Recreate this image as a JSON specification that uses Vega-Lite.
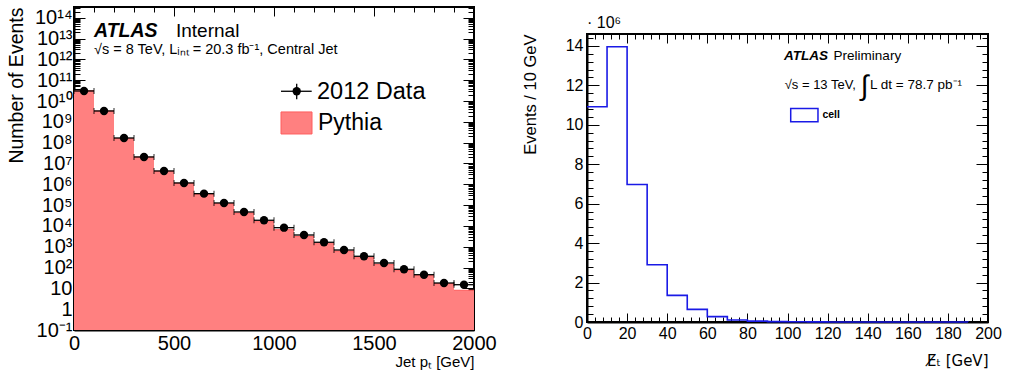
{
  "$schema": "https://vega.github.io/schema/vega-lite/v6.json",
  "background": "white",
  "padding": 5,
  "spacing": 23,
  "config": {
    "font": "Liberation Sans",
    "view": {"stroke": "black", "strokeWidth": 2},
    "axis": {"grid": false, "zindex": 1, "labelColor": "black", "titleColor": "black", "tickColor": "black", "tickWidth": 1, "labelFont": "Liberation Sans", "titleFont": "Liberation Sans", "titleFontWeight": "normal", "labelOverlap": false, "labelFlush": false, "domainColor": "black", "domainWidth": 2}
  },
  "datasets": {
    "jets": [
      {"lo": 0, "hi": 100, "pt": 50, "pythia": 3.1e10, "data": 3.05e10},
      {"lo": 100, "hi": 200, "pt": 150, "pythia": 3.3e9, "data": 3.34e9},
      {"lo": 200, "hi": 300, "pt": 250, "pythia": 1.56e8, "data": 1.68e8},
      {"lo": 300, "hi": 400, "pt": 350, "pythia": 2.0e7, "data": 2.06e7},
      {"lo": 400, "hi": 500, "pt": 450, "pythia": 4.23e6, "data": 4.37e6},
      {"lo": 500, "hi": 600, "pt": 550, "pythia": 1.12e6, "data": 1.16e6},
      {"lo": 600, "hi": 700, "pt": 650, "pythia": 3.43e5, "data": 3.55e5},
      {"lo": 700, "hi": 800, "pt": 750, "pythia": 1.17e5, "data": 1.27e5},
      {"lo": 800, "hi": 900, "pt": 850, "pythia": 4.19e4, "data": 4.68e4},
      {"lo": 900, "hi": 1000, "pt": 950, "pythia": 1.6e4, "data": 1.87e4},
      {"lo": 1000, "hi": 1100, "pt": 1050, "pythia": 6600, "data": 8240},
      {"lo": 1100, "hi": 1200, "pt": 1150, "pythia": 3180, "data": 3670},
      {"lo": 1200, "hi": 1300, "pt": 1250, "pythia": 1400, "data": 1640},
      {"lo": 1300, "hi": 1400, "pt": 1350, "pythia": 625, "data": 698},
      {"lo": 1400, "hi": 1500, "pt": 1450, "pythia": 298, "data": 348},
      {"lo": 1500, "hi": 1600, "pt": 1550, "pythia": 144, "data": 166},
      {"lo": 1600, "hi": 1700, "pt": 1650, "pythia": 74, "data": 82.6},
      {"lo": 1700, "hi": 1800, "pt": 1750, "pythia": 40.7, "data": 45.4},
      {"lo": 1800, "hi": 1900, "pt": 1850, "pythia": 16.8, "data": 18.1},
      {"lo": 1900, "hi": 2000, "pt": 1950, "pythia": 8.1, "data": 15.0}
    ],
    "met": [
      {"lo": 0, "events": 10910000},
      {"lo": 10, "events": 13950000},
      {"lo": 20, "events": 6970000},
      {"lo": 30, "events": 2900000},
      {"lo": 40, "events": 1350000},
      {"lo": 50, "events": 640000},
      {"lo": 60, "events": 270000},
      {"lo": 70, "events": 100000},
      {"lo": 80, "events": 45000},
      {"lo": 90, "events": 20000},
      {"lo": 100, "events": 10000},
      {"lo": 110, "events": 5000},
      {"lo": 120, "events": 3000},
      {"lo": 130, "events": 2000},
      {"lo": 140, "events": 1000},
      {"lo": 150, "events": 600},
      {"lo": 160, "events": 400},
      {"lo": 170, "events": 250},
      {"lo": 180, "events": 150},
      {"lo": 190, "events": 100}
    ]
  },
  "hconcat": [
    {
      "width": 400,
      "height": 323,
      "resolve": {"axis": {"x": "independent", "y": "independent"}},
      "layer": [
        {
          "data": {"name": "jets"},
          "mark": {"type": "rect", "fill": "#ff8080"},
          "encoding": {
            "x": {"field": "lo", "type": "quantitative",
              "scale": {"domain": [0, 2000], "nice": false, "zero": false},
              "axis": {"orient": "bottom", "values": [0,100,200,300,400,500,600,700,800,900,1000,1100,1200,1300,1400,1500,1600,1700,1800,1900,2000],
                "labelExpr": "datum.value % 500 == 0 ? format(datum.value, 'd') : ''",
                "labelFontSize": 20, "labelPadding": 12,
                "tickSize": {"condition": {"test": "datum.value % 500 == 0", "value": -9}, "value": -5},
                "domain": true,
                "title": "Jet pₜ [GeV]", "titleFontSize": 15, "titleAnchor": "end", "titlePadding": -3}},
            "x2": {"field": "hi"},
            "y": {"field": "pythia", "type": "quantitative",
              "scale": {"type": "log", "domain": [0.1, 3.3e14], "nice": false},
              "axis": {"orient": "left",
                "values": [0.1,0.2,0.3,0.4,0.5,0.6,0.7,0.8,0.9,1,2,3,4,5,6,7,8,9,10,20,30,40,50,60,70,80,90,100,200,300,400,500,600,700,800,900,1000,2000,3000,4000,5000,6000,7000,8000,9000,1e4,2e4,3e4,4e4,5e4,6e4,7e4,8e4,9e4,1e5,2e5,3e5,4e5,5e5,6e5,7e5,8e5,9e5,1e6,2e6,3e6,4e6,5e6,6e6,7e6,8e6,9e6,1e7,2e7,3e7,4e7,5e7,6e7,7e7,8e7,9e7,1e8,2e8,3e8,4e8,5e8,6e8,7e8,8e8,9e8,1e9,2e9,3e9,4e9,5e9,6e9,7e9,8e9,9e9,1e10,2e10,3e10,4e10,5e10,6e10,7e10,8e10,9e10,1e11,2e11,3e11,4e11,5e11,6e11,7e11,8e11,9e11,1e12,2e12,3e12,4e12,5e12,6e12,7e12,8e12,9e12,1e13,2e13,3e13,4e13,5e13,6e13,7e13,8e13,9e13,1e14,2e14,3e14],
                "labelExpr": "abs(log(datum.value)/LN10 - round(log(datum.value)/LN10)) < 1e-6 ? ['10⁻¹','1','10','10²','10³','10⁴','10⁵','10⁶','10⁷','10⁸','10⁹','10¹⁰','10¹¹','10¹²','10¹³','10¹⁴'][round(log(datum.value)/LN10) + 1] : ''",
                "labelFontSize": {"condition": {"test": "abs(log(datum.value)/LN10 - round(log(datum.value)/LN10)) < 1e-6", "value": 20}, "value": 1},
                "labelPadding": 13,
                "tickSize": {"condition": {"test": "abs(log(datum.value)/LN10 - round(log(datum.value)/LN10)) < 1e-6", "value": -11}, "value": -6},
                "domain": true,
                "title": "Number of Events", "titleFontSize": 19.5, "titleAnchor": "end", "titlePadding": 8}},
            "y2": {"datum": 0.1}
          }
        },
        {
          "data": {"name": "jets"},
          "mark": {"type": "rule", "stroke": "#ff5c5c", "strokeWidth": 1},
          "encoding": {
            "x": {"field": "lo", "type": "quantitative",
              "axis": {"orient": "top", "values": [0,100,200,300,400,500,600,700,800,900,1000,1100,1200,1300,1400,1500,1600,1700,1800,1900,2000],
                "labels": false, "domain": false, "title": null,
                "tickSize": {"condition": {"test": "datum.value % 500 == 0", "value": -9}, "value": -5}}},
            "x2": {"field": "hi"},
            "y": {"field": "pythia", "type": "quantitative",
              "axis": {"orient": "right",
                "values": [0.1,0.2,0.3,0.4,0.5,0.6,0.7,0.8,0.9,1,2,3,4,5,6,7,8,9,10,20,30,40,50,60,70,80,90,100,200,300,400,500,600,700,800,900,1000,2000,3000,4000,5000,6000,7000,8000,9000,1e4,2e4,3e4,4e4,5e4,6e4,7e4,8e4,9e4,1e5,2e5,3e5,4e5,5e5,6e5,7e5,8e5,9e5,1e6,2e6,3e6,4e6,5e6,6e6,7e6,8e6,9e6,1e7,2e7,3e7,4e7,5e7,6e7,7e7,8e7,9e7,1e8,2e8,3e8,4e8,5e8,6e8,7e8,8e8,9e8,1e9,2e9,3e9,4e9,5e9,6e9,7e9,8e9,9e9,1e10,2e10,3e10,4e10,5e10,6e10,7e10,8e10,9e10,1e11,2e11,3e11,4e11,5e11,6e11,7e11,8e11,9e11,1e12,2e12,3e12,4e12,5e12,6e12,7e12,8e12,9e12,1e13,2e13,3e13,4e13,5e13,6e13,7e13,8e13,9e13,1e14,2e14,3e14],
                "labels": false, "domain": false, "title": null,
                "tickSize": {"condition": {"test": "abs(log(datum.value)/LN10 - round(log(datum.value)/LN10)) < 1e-6", "value": -11}, "value": -6}}}
          }
        },
        {
          "data": {"name": "jets"},
          "mark": {"type": "rule", "stroke": "black", "strokeWidth": 1.3},
          "encoding": {
            "x": {"field": "lo", "type": "quantitative", "axis": null},
            "x2": {"field": "hi"},
            "y": {"field": "data", "type": "quantitative", "axis": null}
          }
        },
        {
          "data": {"name": "jets"},
          "mark": {"type": "tick", "orient": "vertical", "size": 6, "thickness": 1.2, "color": "black"},
          "encoding": {
            "x": {"field": "lo", "type": "quantitative", "axis": null},
            "y": {"field": "data", "type": "quantitative", "axis": null}
          }
        },
        {
          "data": {"name": "jets"},
          "mark": {"type": "tick", "orient": "vertical", "size": 6, "thickness": 1.2, "color": "black"},
          "encoding": {
            "x": {"field": "hi", "type": "quantitative", "axis": null},
            "y": {"field": "data", "type": "quantitative", "axis": null}
          }
        },
        {
          "data": {"name": "jets"},
          "mark": {"type": "point", "shape": "circle", "filled": true, "size": 70, "color": "black", "opacity": 1},
          "encoding": {
            "x": {"field": "pt", "type": "quantitative", "axis": null},
            "y": {"field": "data", "type": "quantitative", "axis": null}
          }
        },
        {
          "data": {"values": [{}]},
          "mark": {"type": "text", "text": "ATLAS", "fontSize": 19.5, "fontWeight": "bold", "fontStyle": "italic", "align": "left", "baseline": "alphabetic", "color": "black"},
          "encoding": {"x": {"datum": 100, "axis": null}, "y": {"datum": 1.14e13, "axis": null}}
        },
        {
          "data": {"values": [{}]},
          "mark": {"type": "text", "text": "Internal", "fontSize": 19, "align": "left", "baseline": "alphabetic", "color": "black"},
          "encoding": {"x": {"datum": 510, "axis": null}, "y": {"datum": 1.14e13, "axis": null}}
        },
        {
          "data": {"values": [{}]},
          "mark": {"type": "text", "text": "√s = 8 TeV, Lᵢₙₜ = 20.3 fb⁻¹, Central Jet", "fontSize": 14.5, "align": "left", "baseline": "alphabetic", "color": "black"},
          "encoding": {"x": {"datum": 100, "axis": null}, "y": {"datum": 1.9e12, "axis": null}}
        },
        {
          "data": {"values": [{}]},
          "mark": {"type": "rule", "color": "black", "strokeWidth": 1.3},
          "encoding": {"x": {"datum": 1035, "axis": null}, "x2": {"datum": 1188.5}, "y": {"datum": 2.95e10, "axis": null}}
        },
        {
          "data": {"values": [{}]},
          "mark": {"type": "rule", "color": "black", "strokeWidth": 1.3},
          "encoding": {"x": {"datum": 1113.5, "axis": null}, "y": {"datum": 6.86e10, "axis": null}, "y2": {"datum": 1.22e10}}
        },
        {
          "data": {"values": [{}]},
          "mark": {"type": "point", "shape": "circle", "filled": true, "size": 70, "color": "black", "opacity": 1},
          "encoding": {"x": {"datum": 1113.5, "axis": null}, "y": {"datum": 2.95e10, "axis": null}}
        },
        {
          "data": {"values": [{}]},
          "mark": {"type": "text", "text": "2012 Data", "fontSize": 23.5, "align": "left", "baseline": "alphabetic", "color": "black"},
          "encoding": {"x": {"datum": 1215, "axis": null}, "y": {"datum": 1.3e10, "axis": null}}
        },
        {
          "data": {"values": [{}]},
          "mark": {"type": "rect", "fill": "#ff8080", "stroke": "#ff5c5c", "strokeWidth": 1},
          "encoding": {"x": {"datum": 1035, "axis": null}, "x2": {"datum": 1190}, "y": {"datum": 2.99e9, "axis": null}, "y2": {"datum": 2.62e8}}
        },
        {
          "data": {"values": [{}]},
          "mark": {"type": "text", "text": "Pythia", "fontSize": 23, "align": "left", "baseline": "alphabetic", "color": "black"},
          "encoding": {"x": {"datum": 1220, "axis": null}, "y": {"datum": 4.22e8, "axis": null}}
        }
      ]
    },
    {
      "spacing": 5,
      "vconcat": [
        {
          "width": 401,
          "height": 1,
          "view": {"stroke": null},
          "data": {"values": [{}]},
          "mark": {"type": "rule", "strokeOpacity": 0},
          "encoding": {}
        },
        {
          "width": 401,
          "height": 288,
          "title": {"text": "· 10⁶", "anchor": "start", "frame": "group", "fontSize": 16, "fontWeight": "normal", "font": "Liberation Sans", "color": "black", "offset": -1},
          "resolve": {"axis": {"x": "independent", "y": "independent"}},
          "layer": [
            {
              "data": {"name": "met"},
              "mark": {"type": "line", "interpolate": "step-after", "stroke": "#1a1ae6", "strokeWidth": 1.6},
              "encoding": {
                "x": {"field": "lo", "type": "quantitative",
                  "scale": {"domain": [0, 200], "nice": false, "zero": false},
                  "axis": {"orient": "bottom", "values": [0,4,8,12,16,20,24,28,32,36,40,44,48,52,56,60,64,68,72,76,80,84,88,92,96,100,104,108,112,116,120,124,128,132,136,140,144,148,152,156,160,164,168,172,176,180,184,188,192,196,200],
                    "labelExpr": "datum.value % 20 == 0 ? format(datum.value, 'd') : ''",
                    "labelFontSize": 16, "labelPadding": 12,
                    "tickSize": {"condition": {"test": "datum.value % 20 == 0", "value": -9}, "value": -5},
                    "domain": true,
                    "title": "E̸ₜ [GeV]", "titleFont": "DejaVu Sans", "titleFontSize": 15, "titleAnchor": "end", "titlePadding": 8}},
                "y": {"field": "events", "type": "quantitative",
                  "scale": {"domain": [0, 14600000], "nice": false, "zero": true},
                  "axis": {"orient": "left",
                    "values": [0,400000,800000,1200000,1600000,2000000,2400000,2800000,3200000,3600000,4000000,4400000,4800000,5200000,5600000,6000000,6400000,6800000,7200000,7600000,8000000,8400000,8800000,9200000,9600000,10000000,10400000,10800000,11200000,11600000,12000000,12400000,12800000,13200000,13600000,14000000,14400000],
                    "labelExpr": "datum.value % 2000000 == 0 ? format(datum.value / 1000000, 'd') : ''",
                    "labelFontSize": 16, "labelPadding": 16,
                    "tickSize": {"condition": {"test": "datum.value % 2000000 == 0", "value": -12}, "value": -6},
                    "domain": true,
                    "title": "Events / 10 GeV", "titleFontSize": 16.5, "titleAnchor": "end", "titlePadding": 27}}
              }
            },
            {
              "data": {"values": [{}]},
              "mark": {"type": "rect", "fill": "white", "stroke": "#1a1ae6", "strokeWidth": 1.5},
              "encoding": {
                "x": {"datum": 101.6,
                  "axis": {"orient": "top", "values": [0,4,8,12,16,20,24,28,32,36,40,44,48,52,56,60,64,68,72,76,80,84,88,92,96,100,104,108,112,116,120,124,128,132,136,140,144,148,152,156,160,164,168,172,176,180,184,188,192,196,200],
                    "labels": false, "domain": false, "title": null,
                    "tickSize": {"condition": {"test": "datum.value % 20 == 0", "value": -9}, "value": -5}}},
                "x2": {"datum": 115.2},
                "y": {"datum": 10820000,
                  "axis": {"orient": "right",
                    "values": [0,400000,800000,1200000,1600000,2000000,2400000,2800000,3200000,3600000,4000000,4400000,4800000,5200000,5600000,6000000,6400000,6800000,7200000,7600000,8000000,8400000,8800000,9200000,9600000,10000000,10400000,10800000,11200000,11600000,12000000,12400000,12800000,13200000,13600000,14000000,14400000],
                    "labels": false, "domain": false, "title": null,
                    "tickSize": {"condition": {"test": "datum.value % 2000000 == 0", "value": -12}, "value": -6}}},
                "y2": {"datum": 10150000}
              }
            },
            {
              "data": {"values": [{}]},
              "mark": {"type": "text", "text": "cell", "fontSize": 10.5, "fontWeight": "bold", "align": "left", "baseline": "middle", "color": "black"},
              "encoding": {"x": {"datum": 117.4, "axis": null}, "y": {"datum": 10480000, "axis": null}}
            },
            {
              "data": {"values": [{}]},
              "mark": {"type": "text", "text": "ATLAS", "fontSize": 13.5, "fontWeight": "bold", "fontStyle": "italic", "align": "left", "baseline": "alphabetic", "color": "black"},
              "encoding": {"x": {"datum": 98.3, "axis": null}, "y": {"datum": 13290000, "axis": null}}
            },
            {
              "data": {"values": [{}]},
              "mark": {"type": "text", "text": "Preliminary", "fontSize": 13.5, "align": "left", "baseline": "alphabetic", "color": "black"},
              "encoding": {"x": {"datum": 123.0, "axis": null}, "y": {"datum": 13290000, "axis": null}}
            },
            {
              "data": {"values": [{}]},
              "mark": {"type": "text", "text": "√s = 13 TeV,", "fontSize": 13, "align": "left", "baseline": "alphabetic", "color": "black"},
              "encoding": {"x": {"datum": 98.6, "axis": null}, "y": {"datum": 11830000, "axis": null}}
            },
            {
              "data": {"values": [{}]},
              "mark": {"type": "text", "text": "∫", "fontSize": 28, "align": "center", "baseline": "middle", "color": "black"},
              "encoding": {"x": {"datum": 138.5, "axis": null}, "y": {"datum": 11890000, "axis": null}}
            },
            {
              "data": {"values": [{}]},
              "mark": {"type": "text", "text": "L dt = 78.7 pb⁻¹", "fontSize": 13.5, "align": "left", "baseline": "alphabetic", "color": "black"},
              "encoding": {"x": {"datum": 141.2, "axis": null}, "y": {"datum": 11830000, "axis": null}}
            }
          ]
        }
      ]
    }
  ]
}
